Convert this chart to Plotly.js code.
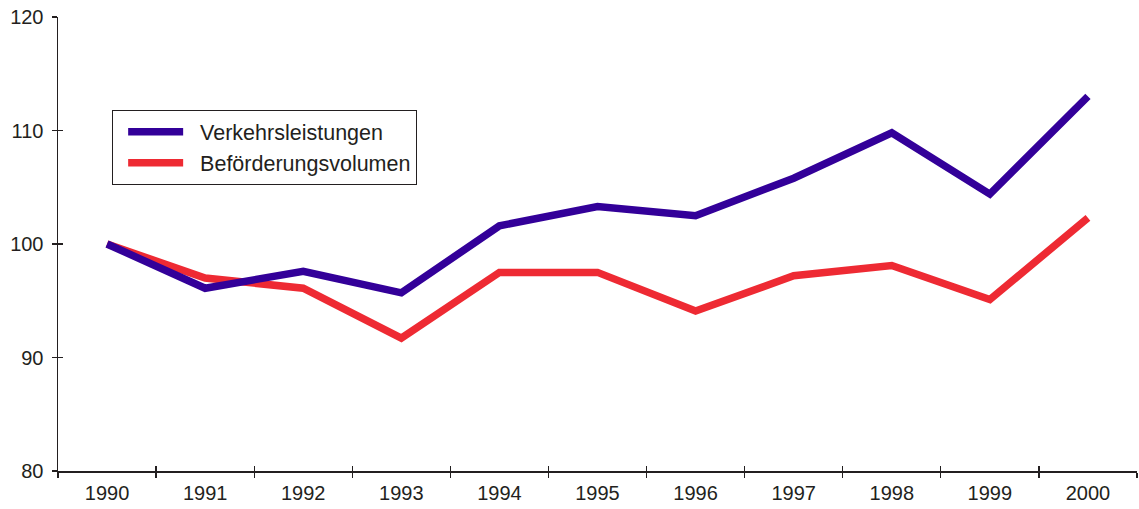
<!DOCTYPE html>
<html>
<head>
<meta charset="utf-8">
<script src="https://cdn.plot.ly/plotly-3.0.1.min.js"></script>
<style>html,body{margin:0;padding:0;background:#fff;}#chart{width:1139px;height:509px;}</style>
</head>
<body>
<div id="chart"></div>
<script>
const years = ['1990','1991','1992','1993','1994','1995','1996','1997','1998','1999','2000'];
const verkehrsleistungen = [100, 96.1, 97.6, 95.7, 101.6, 103.3, 102.5, 105.8, 109.8, 104.4, 113.0];
const befoerderungsvolumen = [100, 97.0, 96.1, 91.7, 97.5, 97.5, 94.1, 97.2, 98.1, 95.1, 102.3];
const seriesNames = ['Verkehrsleistungen', 'Beförderungsvolumen'];
const yTicks = [80, 90, 100, 110, 120];

const axisColor = '#231f20';
const font = {family: 'Liberation Sans, Arial, sans-serif', size: 20, color: '#231f20'};
const pad = '\u00A0\u00A0';

const data = [
  {x: years, y: befoerderungsvolumen, name: pad + seriesNames[1], type: 'scatter', mode: 'lines',
   line: {color: '#ee2a33', width: 7.5}, legendrank: 2},
  {x: years, y: verkehrsleistungen, name: pad + seriesNames[0], type: 'scatter', mode: 'lines',
   line: {color: '#330099', width: 7.5}, legendrank: 1},
  {x: years, y: verkehrsleistungen, xaxis: 'x2', yaxis: 'y2', showlegend: false, hoverinfo: 'skip',
   mode: 'lines', line: {width: 0}, opacity: 0}
];

const layout = {
  width: 1139, height: 509,
  margin: {l: 58, r: 2, t: 17, b: 38},
  paper_bgcolor: '#fff', plot_bgcolor: '#fff',
  font: font,
  showlegend: true,
  legend: {
    x: 0.05, y: 0.795, xanchor: 'left', yanchor: 'top',
    bordercolor: axisColor, borderwidth: 1.2, bgcolor: '#fff',
    font: {family: 'Liberation Sans, Arial, sans-serif', size: 21.5, color: '#231f20'},
    traceorder: 'normal', itemwidth: 55, indentation: 10, tracegroupgap: 0
  },
  xaxis: {
    type: 'category', range: [-0.5, 10.5], tickson: 'boundaries',
    ticks: 'outside', ticklen: 5, tickwidth: 1.2, tickcolor: axisColor,
    showline: true, linecolor: axisColor, linewidth: 1.5,
    showgrid: false, zeroline: false, fixedrange: true,
    tickfont: font, ticklabelstandoff: 3
  },
  yaxis: {
    range: [80, 120], tickvals: yTicks, ticktext: yTicks.map(String),
    ticks: 'outside', ticklen: 5, tickwidth: 1.2, tickcolor: axisColor,
    showline: true, linecolor: axisColor, linewidth: 1.5,
    showgrid: false, zeroline: false, fixedrange: true,
    tickfont: font, ticklabelstandoff: 4
  },
  xaxis2: {
    type: 'category', range: [-0.5, 10.5], tickson: 'boundaries', overlaying: 'x',
    ticks: 'inside', ticklen: 5, tickwidth: 1.2, tickcolor: axisColor,
    showticklabels: false, showline: false, showgrid: false, zeroline: false, fixedrange: true,
    tickvals: years, categoryarray: years
  },
  yaxis2: {
    range: [80, 120], tickvals: yTicks, overlaying: 'y',
    ticks: 'inside', ticklen: 5, tickwidth: 1.2, tickcolor: axisColor,
    showticklabels: false, showline: false, showgrid: false, zeroline: false, fixedrange: true
  }
};

Plotly.newPlot('chart', data, layout, {displayModeBar: false, staticPlot: true});
</script>
</body>
</html>
